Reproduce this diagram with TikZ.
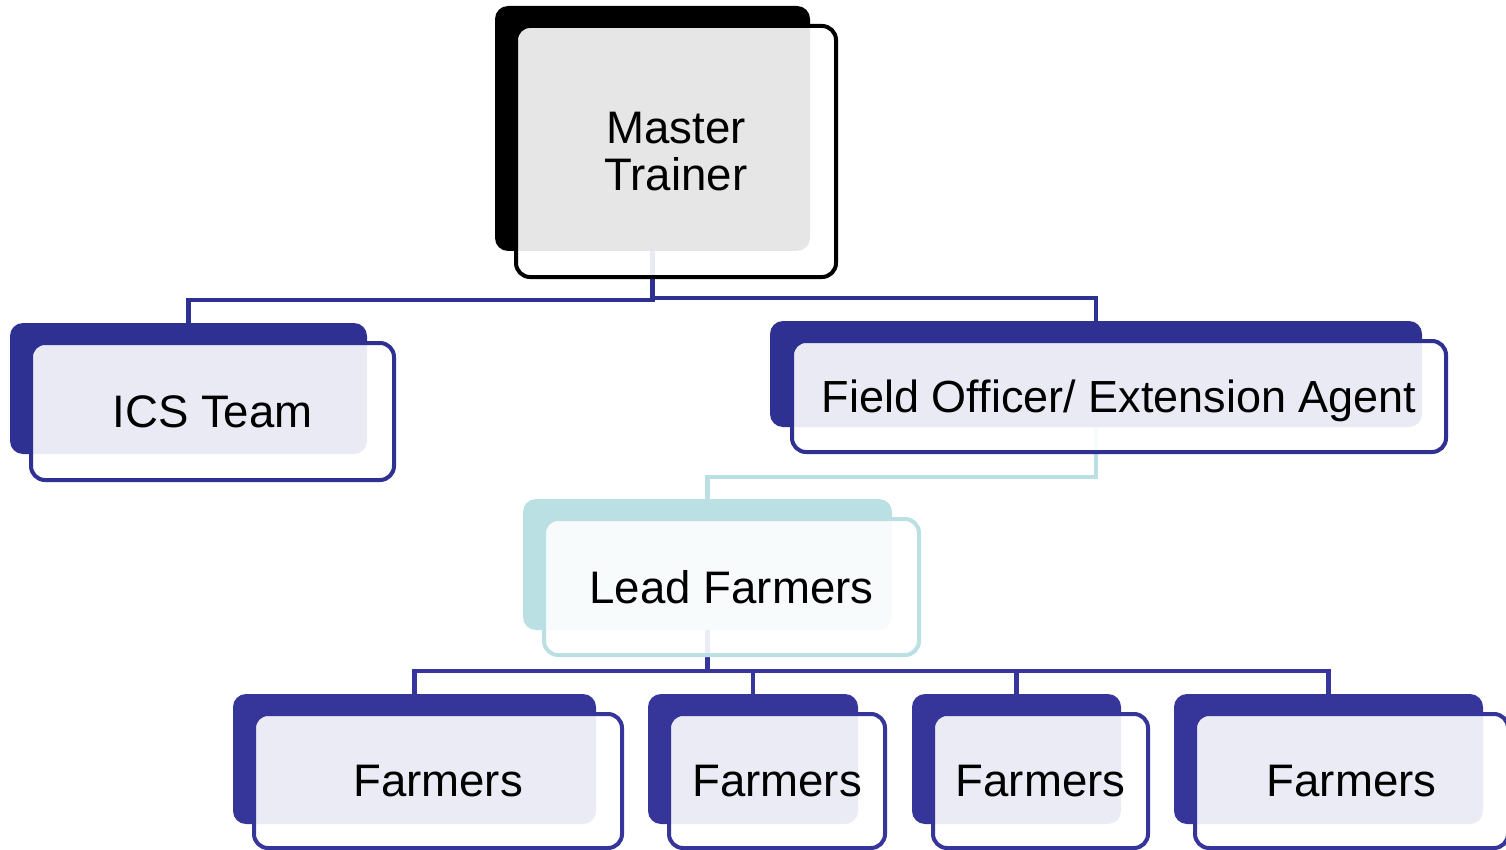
\documentclass[tikz,border=0pt]{standalone}
\usepackage{fontspec}
\setmainfont{Liberation Sans}
\usetikzlibrary{backgrounds}
\definecolor{navyA}{HTML}{2E3192}
\definecolor{navyB}{HTML}{36369A}
\definecolor{tealA}{HTML}{BBE0E3}
\tikzset{
  backbox/.style={rounded corners=13pt, fill=#1, draw=none, inner sep=0pt},
  frontbox/.style={rounded corners=14pt, draw=#1, line width=4pt, fill=white,
    fill opacity=0.9, text opacity=1, inner sep=0pt,
    font=\fontsize{45.6}{47}\selectfont, align=center},
  link/.style={draw=#1, line width=4.5pt},
}
\begin{document}
\begin{tikzpicture}[x=1pt,y=-1pt]
\useasboundingbox (0,0) rectangle (1506,850);
\clip (0,0) rectangle (1506,850);
% back boxes
\node[backbox=black, minimum width=315pt, minimum height=245pt] (mtb) at (652.5,128.5) {};
\node[backbox=navyA, minimum width=357pt, minimum height=131pt] (icsb) at (188.5,388.5) {};
\node[backbox=navyA, minimum width=652pt, minimum height=106pt] (fob) at (1096,374) {};
\node[backbox=tealA, minimum width=369pt, minimum height=131pt] (lfb) at (707.5,564.5) {};
\node[backbox=navyB, minimum width=363pt, minimum height=130pt] (f1b) at (414.5,759) {};
\node[backbox=navyB, minimum width=210pt, minimum height=130pt] (f2b) at (753,759) {};
\node[backbox=navyB, minimum width=209pt, minimum height=130pt] (f3b) at (1016.5,759) {};
\node[backbox=navyB, minimum width=309pt, minimum height=130pt] (f4b) at (1328.5,759) {};
% front boxes
\node[frontbox=black, minimum width=320pt, minimum height=251pt] (mt) at (676,151.5) {Master\\Trainer};
\node[frontbox=navyA, minimum width=363pt, minimum height=137pt] (ics) at (212.5,411.5) {ICS Team};
\node[frontbox=navyA, minimum width=654pt, minimum height=111pt, text depth=0.1em,
  font=\fontsize{45}{47}\selectfont] (fo) at (1119,396.5) {Field Officer/ Extension Agent};
\node[frontbox=tealA, minimum width=375pt, minimum height=136pt] (lf) at (731.5,587) {Lead Farmers};
\node[frontbox=navyB, minimum width=368pt, minimum height=134pt] (f1) at (438,781) {Farmers};
\node[frontbox=navyB, minimum width=216pt, minimum height=134pt] (f2) at (777,781) {Farmers};
\node[frontbox=navyB, minimum width=215pt, minimum height=134pt] (f3) at (1040.5,781) {Farmers};
\node[frontbox=navyB, minimum width=313pt, minimum height=134pt] (f4) at (1351.5,781) {Farmers};
% bus levels
\coordinate (busL) at (0,300);
\coordinate (busR) at (0,298);
\coordinate (busT) at (0,477);
\coordinate (busF) at (0,671);
% connectors
\begin{scope}[on background layer]
\draw[link=navyA] (mtb.south) -- (mtb.south |- busL) -| (icsb.north);
\draw[link=navyA] (mtb.south) -- (mtb.south |- busR) -| (fob.north);
\draw[link=tealA] (fob.south) -- (fob.south |- busT) -| (lfb.north);
\draw[link=navyB] (lfb.south) -- (lfb.south |- busF) -| (f1b.north);
\draw[link=navyB] (lfb.south) -- (lfb.south |- busF) -| (f2b.north);
\draw[link=navyB] (lfb.south) -- (lfb.south |- busF) -| (f3b.north);
\draw[link=navyB] (lfb.south) -- (lfb.south |- busF) -| (f4b.north);
\end{scope}
\end{tikzpicture}
\end{document}
